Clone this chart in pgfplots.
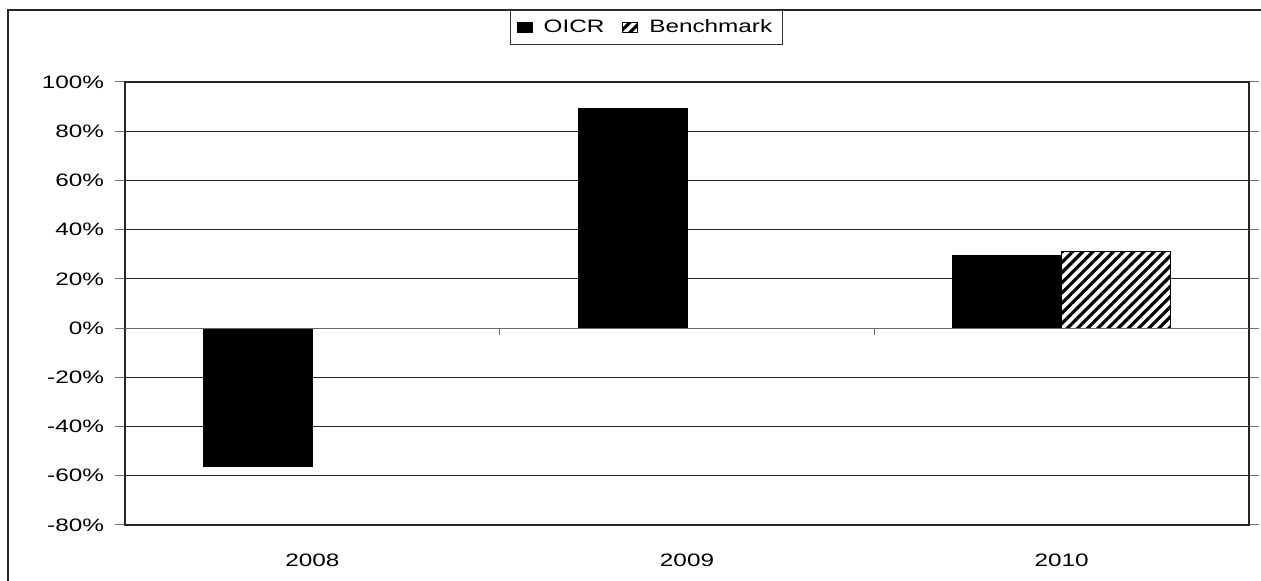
\documentclass[border=0pt]{standalone}
\usepackage{pgfplots}
\pgfplotsset{compat=1.18}
\usepackage{fontspec}
\setmainfont{Liberation Sans}[FakeStretch=1.35]
\usetikzlibrary{patterns.meta}
\begin{document}
\begin{tikzpicture}
\useasboundingbox (-62.5pt,-28pt) rectangle (568pt,262.5pt);
\fill[white] (-62.5pt,-28pt) rectangle (568pt,262.5pt);
\draw[line width=0.6pt, black!85] (-58.5pt,-32pt) -- (-58.5pt,257.5pt) -- (572pt,257.5pt);
\begin{axis}[
  at={(0,0)}, anchor=south west,
  scale only axis,
  width=562pt, height=221.5pt,
  xmin=-0.5, xmax=2.5,
  ymin=-80, ymax=100,
  ybar=0pt, bar width=54.5pt,
  xtick={0,1,2},
  xticklabels={2008,2009,2010},
  xtick style={draw=none},
  xticklabel style={yshift=-6pt},
  ytick={-80,-60,-40,-20,0,20,40,60,80,100},
  yticklabels={-80\%,-60\%,-40\%,-20\%,0\%,20\%,40\%,60\%,80\%,100\%},
  ytick style={draw=black!55, line width=0.5pt},
  tick align=outside, major tick length=5pt,
  yticklabel style={xshift=-2pt},
  ymajorgrids,
  grid style={black!85, line width=0.5pt},
  axis line style={black!85, line width=0.7pt},
  tick label style={font=\fontsize{9}{10}\selectfont},
  legend columns=-1,
  legend style={at={(axis description cs:0.464,1.1625)}, anchor=north,
    draw=black!80, line width=0.5pt, font=\fontsize{9}{10}\selectfont,
    inner ysep=2.5pt, inner xsep=3pt,
    /tikz/every even column/.append style={column sep=7pt}},
  legend image code/.code={\draw[#1, line width=0.4pt] (0pt,-2.6pt) rectangle (7.5pt,2.6pt); \path (11pt,0pt);},
]
\addplot[fill=black, draw=black, line width=0.4pt] coordinates {(0,-56) (1,89.3) (2,29.5)};
\addplot[draw=black, line width=0.5pt, fill=white,
  postaction={pattern={Lines[angle=45,distance=3.6pt,line width=1.6pt]}}]
  coordinates {(2,31)};
\legend{OICR,Benchmark}
\draw[black!60, line width=0.5pt] (axis cs:-0.5,0) -- (axis cs:2.5,0);
\draw[black!60, line width=0.6pt] (axis cs:0.5,0) -- ([yshift=-3.5pt]axis cs:0.5,0);
\draw[black!60, line width=0.6pt] (axis cs:1.5,0) -- ([yshift=-3.5pt]axis cs:1.5,0);
\end{axis}
\end{tikzpicture}
\end{document}
